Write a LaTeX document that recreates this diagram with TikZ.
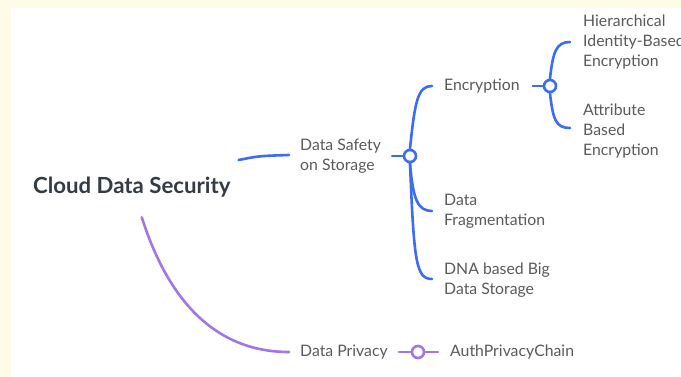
\documentclass[tikz,border=0pt]{standalone}
\usepackage{fontspec}
\setmainfont{Lato}
\usepackage{tikz}
\usetikzlibrary{positioning, calc}
\definecolor{mapBlue}{HTML}{3D6CF4}
\definecolor{mapPurple}{HTML}{A276E8}
\definecolor{mapText}{HTML}{5A5A5A}
\definecolor{mapRoot}{HTML}{333B44}
\definecolor{mapCream}{HTML}{FFFBE9}

\begin{document}
\begin{tikzpicture}[x=1pt, y=-1pt, line cap=round,
  leaf/.style={anchor=west, align=left, inner sep=0pt, text=mapText, font=\fontsize{15.8}{20}\selectfont},
  branch/.style={line width=2.6pt},
  joint/.style={circle, line width=2.6pt, fill=white, minimum size=12pt, inner sep=0pt}]

  \fill[mapCream] (0,0) rectangle (681,377);
  \fill[white] (11,8) rectangle (681,377);
  \useasboundingbox (0,0) rectangle (681,377);

  \node[anchor=west, inner sep=0pt, text=mapRoot, font=\bfseries\fontsize{22.2}{26}\selectfont] (root) at (33,187) {Cloud Data Security};

  \node[leaf] (safe) at (300,156) {Data Safety\\on Storage};
  \node[leaf] (enc) at (444,86) {Encryption};
  \node[leaf] (hibe) at (583,42) {Hierarchical\\Identity-Based\\Encryption};
  \node[leaf] (abe) at (583,131) {Attribute\\Based\\Encryption};
  \node[leaf] (frag) at (444,211) {Data\\Fragmentation};
  \node[leaf] (dna) at (444,280) {DNA based Big\\Data Storage};
  \node[leaf] (priv) at (300,352) {Data Privacy};
  \node[leaf] (auth) at (450,352) {AuthPrivacyChain};

  % blue side
  \draw[mapBlue, branch] ($(root.east)+(8,-27)$) .. controls +(20,-4) .. ($(safe.west)+(-11,-1)$);
  \node[joint, draw=mapBlue] (jsafe) at (410,156) {};
  \draw[mapBlue, branch] ($(safe.east)+(11,0)$) -- (jsafe);
  \draw[mapBlue, branch] (jsafe.north) .. controls (415,100) and (418,86) .. ($(enc.west)+(-12,0)$);
  \draw[mapBlue, branch] (jsafe.south) .. controls (413,200) and (418,211) .. ($(frag.west)+(-12,0)$);
  \draw[mapBlue, branch] (jsafe.south) .. controls (414,262) and (416,279) .. ($(dna.west)+(-12,-1)$);

  \node[joint, draw=mapBlue] (jenc) at (550,86) {};
  \draw[mapBlue, branch] ($(enc.east)+(13,0)$) -- (jenc);
  \draw[mapBlue, branch] (jenc.north) .. controls (553,52) and (556,42) .. ($(hibe.west)+(-13,0)$);
  \draw[mapBlue, branch] (jenc.south) .. controls (553,120) and (556,128) .. ($(abe.west)+(-13,-3)$);

  % purple side
  \draw[mapPurple, branch] ($(root.south)+(10,20)$) .. controls (168,300) and (215,352) .. ($(priv.west)+(-11,0)$);
  \draw[mapPurple, branch] ($(priv.east)+(11,0)$) -- ($(auth.west)+(-12,0)$);
  \node[joint, draw=mapPurple] (jpriv) at (418,352) {};

\end{tikzpicture}
\end{document}
